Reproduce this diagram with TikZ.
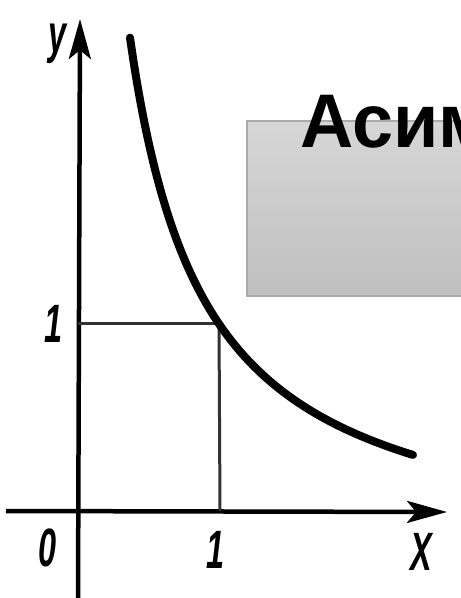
\documentclass[tikz,border=0pt]{standalone}
\usepackage{fontspec}
\setmainfont{Liberation Sans}
\usetikzlibrary{arrows.meta}
\begin{document}
\begin{tikzpicture}[x=1pt,y=-1pt,
  axis/.style={line width=4.5pt,-{Stealth[length=40pt,width=22pt,inset=9pt]}},
  thinline/.style={line width=3pt,draw=black!80},
  curveline/.style={line width=8pt,line cap=round},
  lab/.style={font=\fontsize{54}{54}\selectfont\bfseries\itshape,xscale=0.6,inner sep=0pt,anchor=base},
  titlebox/.style={draw=black!33,line width=1.5pt,top color=black!16,bottom color=black!25}]
\useasboundingbox (0,0) rectangle (461,598);
\clip (0,0) rectangle (461,598);
\fill[white] (0,0) rectangle (461,598);
% axes
\coordinate (ybot) at (78,600);
\coordinate (ytop) at (80,19);
\coordinate (xl) at (6,511);
\coordinate (xr) at (447,512);
\draw[axis] (ybot) -- (ytop);
\draw[axis] (xl) -- (xr);
% guide lines
\coordinate (p11) at (219,323);
\coordinate (py) at (78,323);
\coordinate (px) at (220,511);
\draw[thinline] (py) -- (p11);
\draw[thinline] (p11) -- (px);
% curve
\draw[curveline] plot[domain=130:413,samples=80,smooth] (\x,{565.9-397.4/(0.01*\x-0.547)});
% labels
\node[lab] (ylab) at (58,52) {y};
\node[lab] (one) at (54,342) {1};
\node[lab] (zero) at (48,566) {0};
\node[lab] (onex) at (216,568) {1};
\node[lab] (xlab) at (421,570) {X};
% title box
\node[titlebox,minimum width=240pt,minimum height=175pt,anchor=north west,inner sep=0pt] (box) at (246,120) {};
\node[font=\fontsize{76}{76}\selectfont\bfseries,anchor=base west,inner sep=0pt,xscale=0.97] (title) at (300,147) {Асим};
\end{tikzpicture}
\end{document}
